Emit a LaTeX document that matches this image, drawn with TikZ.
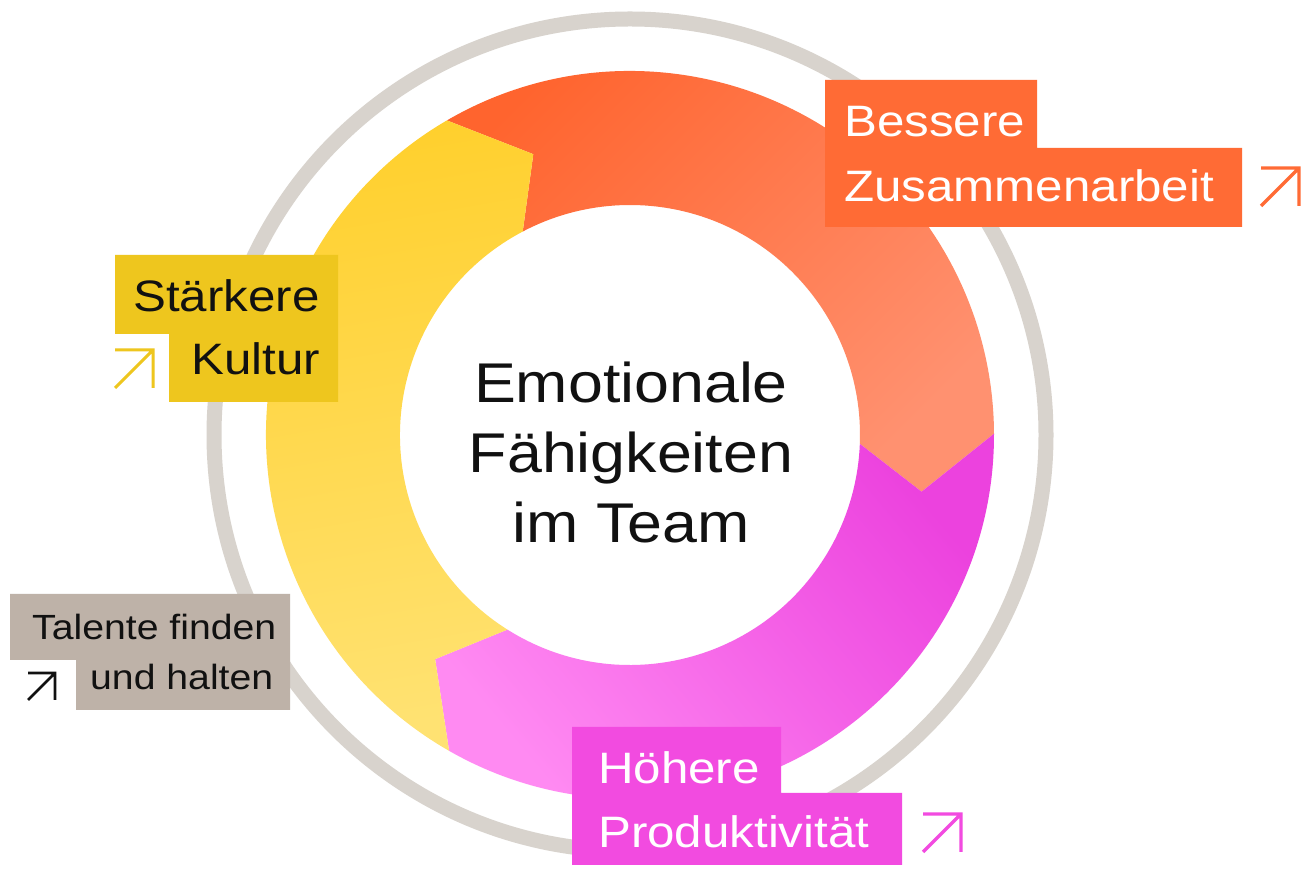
\documentclass[tikz,border=0pt]{standalone}
\usepackage{fontspec}
\setmainfont{Liberation Sans}[FakeStretch=1.12]
\usetikzlibrary{calc}

% palette
\definecolor{ringgray}{RGB}{216,211,205}
\definecolor{orangeA}{RGB}{255,100,46}
\definecolor{orangeB}{RGB}{255,145,112}
\definecolor{orangeBox}{RGB}{255,107,53}
\definecolor{magentaA}{RGB}{236,66,222}
\definecolor{magentaB}{RGB}{255,138,242}
\definecolor{magentaBox}{RGB}{242,75,224}
\definecolor{yellowA}{RGB}{255,208,46}
\definecolor{yellowB}{RGB}{255,226,114}
\definecolor{yellowBox}{RGB}{238,198,30}
\definecolor{beigeBox}{RGB}{190,178,168}
\definecolor{inkblack}{RGB}{17,17,17}

% radii of the donut
\newcommand\Rout{364}
\newcommand\Rin{230}
\newcommand\Rmid{297}

% one chevron-ended segment of the donut, running clockwise from angle #1 to angle #2
\newcommand\ringsegment[3]{%
  \shade[#3]
    ($(C)+(#1+0.2:\Rout)$) arc[start angle=#1+0.2, end angle=#2+0.2, radius=\Rout]
    -- ($(C)+(#2-11:\Rmid)$)
    -- ($(C)+(#2-2.2:\Rin)$) arc[start angle=#2-2.2, end angle=#1-2.2, radius=\Rin]
    -- ($(C)+(#1-11:\Rmid)$) -- cycle;}

% small north-east arrow icon: lower-left corner (#1,#2), size #3, colour #4, width #5
\newcommand\diagarrow[5]{%
  \draw[color=#4, line width=#5, line join=miter, line cap=butt]
    (#1,#2) -- (#1+#3,#2+#3)
    (#1,#2+#3) -- (#1+#3,#2+#3) -- (#1+#3,#2);}

\begin{document}
\begin{tikzpicture}[x=1pt, y=1pt,
  outerring/.style={draw=ringgray, line width=15},
  biglabel/.style={anchor=base west, inner sep=0pt, font=\fontsize{44}{52}\selectfont},
  smalllabel/.style={anchor=base west, inner sep=0pt, font=\fontsize{35}{42}\selectfont},
  centertext/.style={anchor=base, inner sep=0pt, font=\fontsize{56}{70}\selectfont, text=inkblack}
]
\useasboundingbox[fill=white] (0,0) rectangle (1311,869);

\coordinate (C) at (630,434);

% thin grey outer ring
\draw[outerring] (C) circle[radius=416];

% donut segments
\ringsegment{120}{0}{top color=orangeA, bottom color=orangeB, shading angle=45}
\ringsegment{0}{-120}{top color=magentaA, bottom color=magentaB, shading angle=-50}
\ringsegment{240}{120}{top color=yellowA, bottom color=yellowB, shading angle=10}

% centre title
\node[centertext] (t1) at (631,466) {Emotionale};
\node[centertext] (t2) at (631,396) {Fähigkeiten};
\node[centertext] (t3) at (631,326) {im Team};

% label: Bessere Zusammenarbeit
\fill[orangeBox] (825,789) -- (1037,789) -- (1037,721) -- (1242,721)
  -- (1242,642) -- (825,642) -- cycle;
\node[biglabel, text=white] (b1) at (844,732) {Bessere};
\node[biglabel, text=white] (b2) at (844,667) {Zusammenarbeit};
\diagarrow{1261}{663}{38}{orangeBox}{3.3}

% label: Stärkere Kultur
\fill[yellowBox] (115,614) -- (338,614) -- (338,467) -- (169,467)
  -- (169,535) -- (115,535) -- cycle;
\node[biglabel, text=inkblack] (k1) at (133,557) {Stärkere};
\node[biglabel, text=inkblack] (k2) at (191,494) {Kultur};
\diagarrow{115}{481}{38}{yellowBox}{3}

% label: Talente finden und halten
\fill[beigeBox] (10,275) -- (290,275) -- (290,159) -- (76,159)
  -- (76,209) -- (10,209) -- cycle;
\node[smalllabel, text=inkblack] (h1) at (32,229) {Talente finden};
\node[smalllabel, text=inkblack] (h2) at (90,179) {und halten};
\diagarrow{28}{169}{27}{inkblack}{2.7}

% label: Höhere Produktivität
\fill[magentaBox] (572,142) -- (781,142) -- (781,76) -- (902,76)
  -- (902,4) -- (572,4) -- cycle;
\node[biglabel, text=white] (p1) at (598,85) {Höhere};
\node[biglabel, text=white] (p2) at (598,21) {Produktivität};
\diagarrow{923}{17}{38}{magentaBox}{3.3}
\end{tikzpicture}
\end{document}
